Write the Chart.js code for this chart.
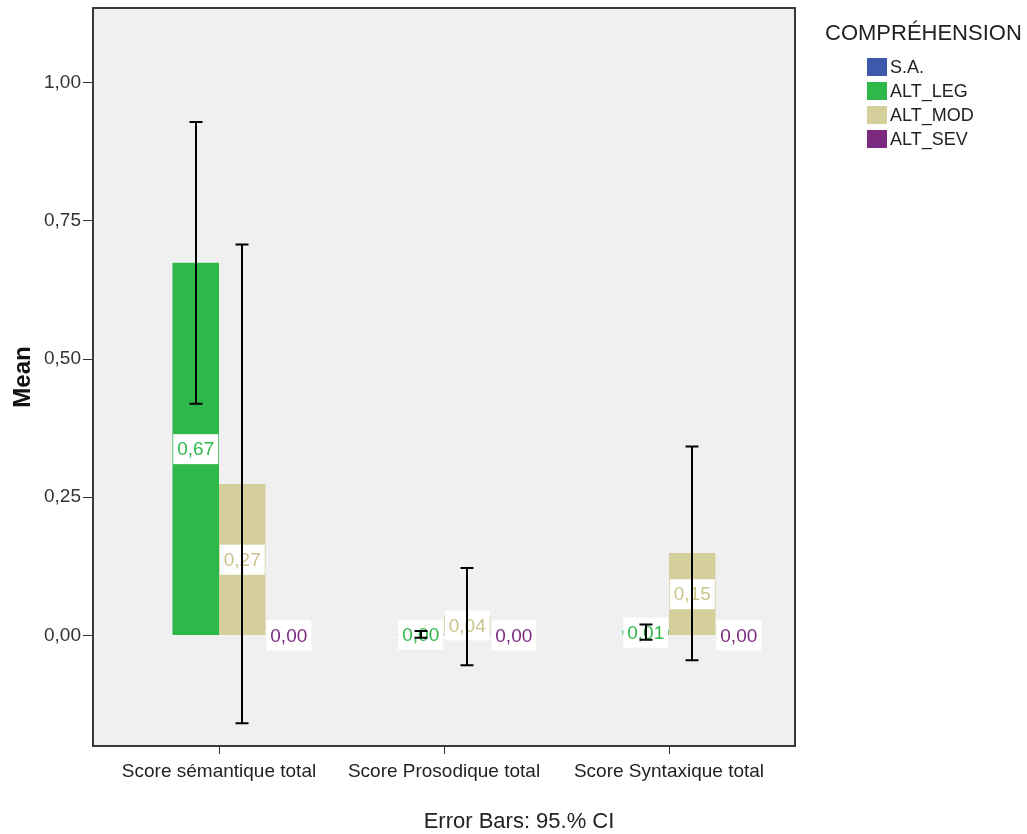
<!DOCTYPE html>
<html><head><meta charset="utf-8">
<script src="https://cdn.jsdelivr.net/npm/chart.js@4.4.1/dist/chart.umd.min.js"></script>
<style>html,body{margin:0;padding:0;background:#fff}#wrap{width:1027px;height:834px}</style>
</head><body><div id="wrap"><canvas id="c" width="1027" height="834"></canvas></div>
<script>
const categories = ['Score sémantique total', 'Score Prosodique total', 'Score Syntaxique total'];
const seriesNames = ['S.A.', 'ALT_LEG', 'ALT_MOD', 'ALT_SEV'];
const seriesColors = ['#3e58ac', '#2fb84a', '#d4cf9b', '#7b2a80'];
const labelColors = ['#3e58ac', '#2fb84a', '#c9c38b', '#7b2a80'];
const meanSA = [null, null, null];
const meanLEG = [0.674, 0.002, 0.01];
const meanMOD = [0.274, 0.036, 0.149];
const meanSEV = [0, 0, 0];
const ciLowLEG = [0.419, -0.004, -0.008];
const ciHighLEG = [0.929, 0.008, 0.02];
const ciLowMOD = [-0.159, -0.054, -0.045];
const ciHighMOD = [0.707, 0.122, 0.342];
const yTickValues = [0, 0.25, 0.5, 0.75, 1];
const legendTitle = 'COMPRÉHENSION';
const yTitle = 'Mean';
const footer = 'Error Bars: 95.% CI';

const seriesMeans = [meanSA, meanLEG, meanMOD, meanSEV];
const seriesLow = [null, ciLowLEG, ciLowMOD, null];
const seriesHigh = [null, ciHighLEG, ciHighMOD, null];
const FONT = '"Liberation Sans", Arial, sans-serif';
const fmt = v => v.toFixed(2).replace('.', ',');

const overlay = {
  id: 'overlay',
  beforeDraw(chart) {
    const {ctx, chartArea: a} = chart;
    ctx.save();
    ctx.fillStyle = '#f0f0f0';
    ctx.fillRect(a.left, a.top, a.width, a.height);
    ctx.restore();
  },
  afterDatasetsDraw(chart) {
    const ctx = chart.ctx, y = chart.scales.y, a = chart.chartArea;
    ctx.save();
    ctx.font = '19px ' + FONT;
    ctx.textAlign = 'center';
    ctx.textBaseline = 'middle';
    chart.data.datasets.forEach((ds, d) => {
      const meta = chart.getDatasetMeta(d);
      ds.data.forEach((v, i) => {
        if (v == null) return;
        const cx = meta.data[i].x;
        const cy = y.getPixelForValue(v / 2);
        const t = fmt(v);
        const w = ctx.measureText(t).width + 8, h = 30;
        ctx.fillStyle = '#ffffff';
        ctx.fillRect(cx - w / 2, cy - h / 2, w, h);
        ctx.fillStyle = labelColors[d];
        ctx.fillText(t, cx, cy + 1);
      });
    });
    ctx.strokeStyle = '#000';
    ctx.lineWidth = 2;
    seriesLow.forEach((lows, d) => {
      if (!lows) return;
      const meta = chart.getDatasetMeta(d);
      lows.forEach((lo, i) => {
        const hi = seriesHigh[d][i];
        const cx = Math.round(meta.data[i].x);
        const y1 = y.getPixelForValue(lo), y2 = y.getPixelForValue(hi);
        ctx.beginPath();
        ctx.moveTo(cx, y1); ctx.lineTo(cx, y2);
        ctx.moveTo(cx - 6.5, y1); ctx.lineTo(cx + 6.5, y1);
        ctx.moveTo(cx - 6.5, y2); ctx.lineTo(cx + 6.5, y2);
        ctx.stroke();
      });
    });
    ctx.strokeStyle = '#3a3a3a';
    ctx.lineWidth = 2;
    ctx.strokeRect(a.left, a.top, a.width, a.height);
    ctx.restore();
  },
  afterDraw(chart) {
    const ctx = chart.ctx;
    ctx.save();
    ctx.fillStyle = '#222';
    ctx.textBaseline = 'middle';
    ctx.textAlign = 'left';
    ctx.font = '22px ' + FONT;
    ctx.fillText(legendTitle, 825, 34);
    ctx.font = '18px ' + FONT;
    seriesNames.forEach((n, k) => {
      const cy = 67 + k * 24;
      ctx.fillStyle = seriesColors[k];
      ctx.fillRect(867, cy - 9, 20, 18);
      ctx.fillStyle = '#222';
      ctx.fillText(n, 890, cy + 1);
    });
    ctx.restore();
  }
};

new Chart(document.getElementById('c'), {
  type: 'bar',
  data: {
    labels: categories,
    datasets: seriesNames.map((n, k) => ({
      label: n,
      data: seriesMeans[k],
      backgroundColor: seriesColors[k],
      borderWidth: 0,
      categoryPercentage: 0.827,
      barPercentage: 1
    }))
  },
  options: {
    responsive: false,
    animation: false,
    layout: {padding: {left: 11, top: 8, right: 0, bottom: 0}},
    plugins: {
      legend: {display: false},
      tooltip: {enabled: false},
      subtitle: {
        display: true, position: 'bottom', text: footer, color: '#222',
        font: {family: FONT, size: 22, weight: 'normal', lineHeight: 1},
        padding: {top: 25, bottom: 1}
      }
    },
    scales: {
      x: {
        offset: true,
        grid: {offset: false, drawOnChartArea: false, drawTicks: true, tickLength: 8, color: '#333'},
        border: {display: false},
        ticks: {color: '#222', font: {family: FONT, size: 19}, padding: 6, maxRotation: 0, autoSkip: false},
        afterBuildTicks(s) { s._startValue = -0.56; s._valueRange = 3.12; },
        afterFit(s) { s.height = 40; s.paddingLeft = 0; s.paddingRight = 0; }
      },
      y: {
        min: -0.2, max: 1.135,
        grid: {drawOnChartArea: false, drawTicks: true, tickLength: 10, color: '#333'},
        border: {display: false},
        ticks: {color: '#333', font: {family: FONT, size: 19}, padding: 2, callback: v => fmt(v)},
        afterBuildTicks(s) { s.ticks = yTickValues.map(v => ({value: v})); },
        title: {display: true, text: yTitle, color: '#111', font: {family: FONT, size: 24, weight: 'bold', lineHeight: 1}, padding: 0},
        afterFit(s) { s.width = 82; s.paddingTop = 0; s.paddingBottom = 0; }
      },
      yR: {
        type: 'linear', position: 'right', display: true,
        grid: {display: false}, border: {display: false}, ticks: {display: false},
        afterFit(s) { s.width = 232; s.paddingTop = 0; s.paddingBottom = 0; }
      }
    }
  },
  plugins: [overlay]
});
</script>
</body></html>
